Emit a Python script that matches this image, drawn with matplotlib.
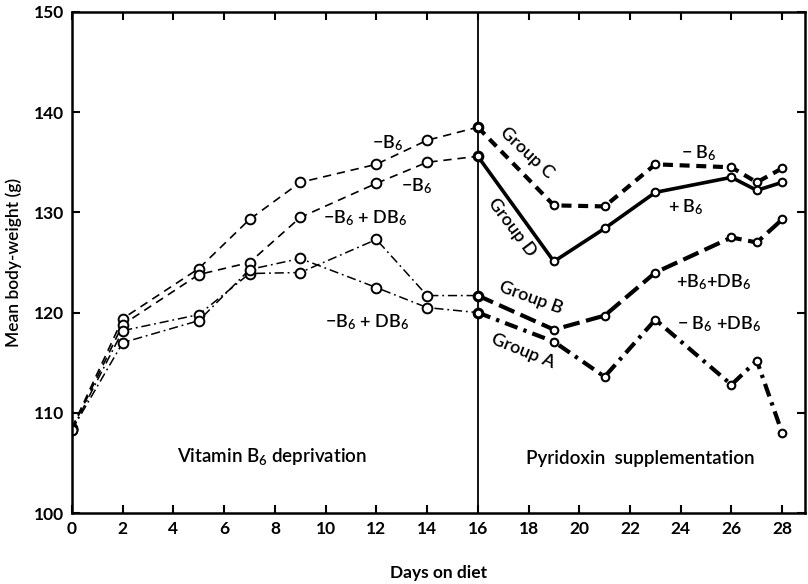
import matplotlib
matplotlib.use("Agg")
import matplotlib.pyplot as plt

plt.rcParams['font.family'] = ['Lato', 'DejaVu Sans']
plt.rcParams['mathtext.fontset'] = 'custom'
plt.rcParams['mathtext.rm'] = 'Lato:semibold'
plt.rcParams['mathtext.default'] = 'rm'

# ---- data ----
days_dep = [0, 2, 5, 7, 9, 12, 14, 16]
C_dep = [108.5, 119.4, 124.4, 129.3, 133.0, 134.8, 137.2, 138.5]
D_dep = [108.4, 118.8, 123.8, 125.0, 129.5, 132.9, 135.0, 135.6]
B_dep = [108.3, 118.2, 119.8, 123.9, 124.0, 127.3, 121.7, 121.7]
A_dep = [108.3, 117.0, 119.2, 124.3, 125.4, 122.5, 120.5, 120.0]

days_sup = [16, 19, 21, 23, 26, 27, 28]
C_sup = [138.5, 130.7, 130.6, 134.8, 134.5, 133.0, 134.4]
D_sup = [135.6, 125.1, 128.4, 132.0, 133.5, 132.2, 133.0]
B_sup = [121.7, 118.3, 119.7, 124.0, 127.5, 127.0, 129.3]
A_sup = [120.0, 117.1, 113.6, 119.3, 112.8, 115.2, 108.0]

xticks = list(range(0, 29, 2))
yticks = [100, 110, 120, 130, 140, 150]

fig = plt.figure(figsize=(8.08, 5.84), dpi=100)
ax = fig.add_axes([72/808, 71/584, (805-72)/808, (513-12)/584])
ax.set_xlim(0, 28.9)
ax.set_ylim(100, 150)

mk = dict(marker='o', mfc='white', mec='black', color='black')

# deprivation phase: thin lines
ax.plot(days_dep, C_dep, lw=1.2, dashes=(5, 3.5), ms=7, mew=1.4, **mk)
ax.plot(days_dep, D_dep, lw=1.2, dashes=(5, 3.5), ms=7, mew=1.4, **mk)
ax.plot(days_dep, B_dep, lw=1.1, dashes=(6, 2.5, 1.2, 2.5), ms=7, mew=1.4, **mk)
ax.plot(days_dep, A_dep, lw=1.1, dashes=(6, 2.5, 1.2, 2.5), ms=7, mew=1.4, **mk)

# supplementation phase: heavy lines
ax.plot(days_sup, C_sup, lw=3.0, dashes=(2.4, 1.6), ms=5.5, mew=1.5, **mk)
ax.plot(days_sup, D_sup, lw=2.6, ms=5.5, mew=1.5, **mk)
ax.plot(days_sup, B_sup, lw=3.0, dashes=(4, 1.6), ms=5.5, mew=1.5, **mk)
ax.plot(days_sup, A_sup, lw=3.0, dashes=(3.2, 1.5, 0.8, 1.5), ms=5.5, mew=1.5, **mk)

ax.axvline(16, color='black', lw=1.3, zorder=1)

# axes styling
for s in ax.spines.values():
    s.set_linewidth(1.8)
ax.set_xticks(xticks)
ax.set_yticks(yticks)
ax.tick_params(axis='both', direction='in', length=6, width=1.5,
               top=True, right=True, labelsize=12.5, pad=6)
for lab in ax.get_xticklabels() + ax.get_yticklabels():
    lab.set_fontweight('bold')

ax.set_xlabel('Days on diet', fontsize=12.5, fontweight='bold', labelpad=20)
ax.set_ylabel('Mean body-weight (g)', fontsize=12.5, fontweight='semibold', labelpad=8)

fs = 13
def t(x, y, s, rot=0, size=fs):
    ax.text(x, y, s, ha='center', va='center', rotation=rot,
            rotation_mode='anchor', fontsize=size, fontweight='semibold')

t(12.45, 136.9, '−B$_6$')
t(13.6, 132.6, '−B$_6$')
t(11.55, 129.4, '−B$_6$ + DB$_6$')
t(11.63, 119.0, '−B$_6$ + DB$_6$')
t(7.9, 105.6, 'Vitamin B$_6$ deprivation', size=13.5)
t(22.4, 105.4, 'Pyridoxin  supplementation', size=13.5)
t(17.93, 135.9, 'Group C', rot=-43)
t(17.34, 128.5, 'Group D', rot=-53)
t(18.09, 121.5, 'Group B', rot=-20)
t(17.8, 116.2, 'Group A', rot=-22)
t(24.7, 135.9, '− B$_6$')
t(24.2, 130.5, '+ B$_6$')
t(25.3, 123.0, '+B$_6$+DB$_6$')
t(25.5, 118.8, '− B$_6$ +DB$_6$')

fig.savefig('out.png', dpi=100)
